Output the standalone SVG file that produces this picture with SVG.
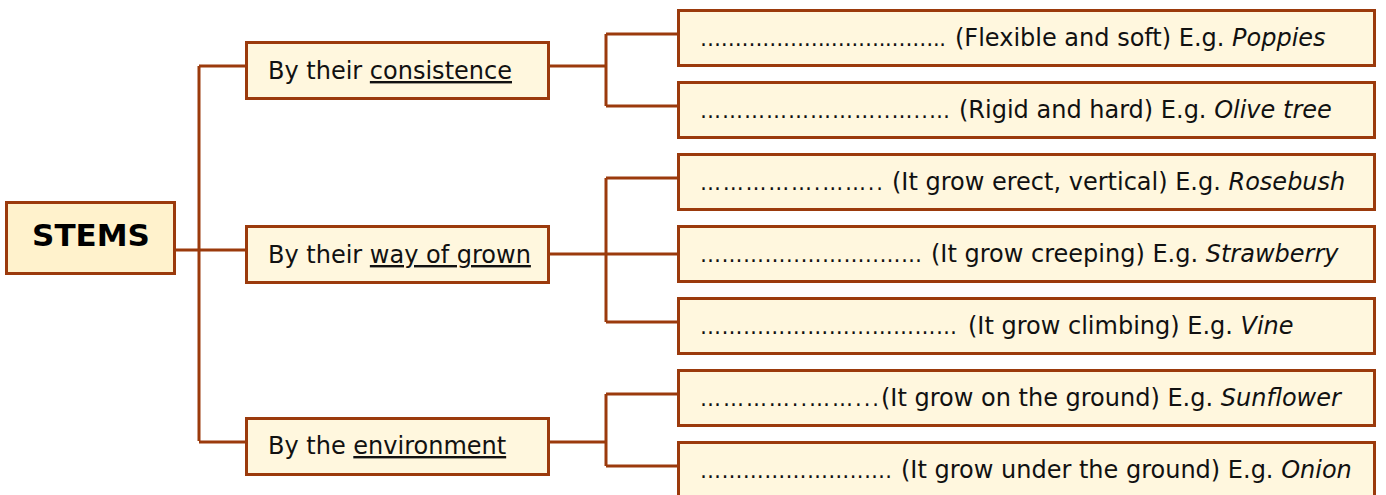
<svg xmlns="http://www.w3.org/2000/svg" width="1386" height="495" viewBox="0 0 1386 495">
<style>
.box{fill:#FFF7DE;stroke:#9B3A0C;stroke-width:3}
.root{fill:#FFF2CC;stroke:#9B3A0C;stroke-width:3}
.ln{fill:none;stroke:#9B3A0C;stroke-width:3}
text{font-family:"DejaVu Sans","Verdana",sans-serif;font-size:24px;fill:#111}
.d{font-size:21px}
.t{font-size:31px;font-weight:bold;text-anchor:middle;fill:#000}
.u{text-decoration:underline}
.i{font-style:italic}
</style>
<rect width="1386" height="495" fill="#fff"/>
<g id="connectors">
<path class="ln" d="M175,250 H246 M199,66 V441 M199,66 H246 M199,442 H246"/>
<path class="ln" d="M549,66 H606 M606,34 V106 M606,34 H678 M606,106 H678"/>
<path class="ln" d="M549,254 H678 M606,178 V322 M606,178 H678 M606,322 H678"/>
<path class="ln" d="M549,442 H606 M606,394 V466 M606,394 H678 M606,466 H678"/>
</g>
<g id="stems"><rect class="root" x="6.5" y="202.5" width="168" height="71"/><text class="t" x="91" y="246">STEMS</text></g>
<g id="consistence"><rect class="box" x="246.5" y="42.5" width="302" height="56"/><text x="268" y="79">By their <tspan class="u">consistence</tspan></text></g>
<g id="way"><rect class="box" x="246.5" y="226.5" width="302" height="56"/><text x="268" y="263">By their <tspan class="u">way of grown</tspan></text></g>
<g id="environment"><rect class="box" x="246.5" y="418.5" width="302" height="56"/><text x="268" y="454">By the <tspan class="u">environment</tspan></text></g>
<g id="flexible"><rect class="box" x="678.5" y="10.5" width="696" height="55"/>
<text class="d" x="700" y="46" textLength="246" lengthAdjust="spacing">……………….….…..……..</text>
<text x="955" y="46">(Flexible and soft) E.g. <tspan class="i">Poppies</tspan></text></g>
<g id="rigid"><rect class="box" x="678.5" y="82.5" width="696" height="55"/>
<text class="d" x="700" y="118" textLength="250" lengthAdjust="spacing">……………………..…..…</text>
<text x="959" y="118">(Rigid and hard) E.g. <tspan class="i">Olive tree</tspan></text></g>
<g id="erect"><rect class="box" x="678.5" y="154.5" width="696" height="55"/>
<text class="d" x="700" y="190" textLength="183" lengthAdjust="spacing">…………….……..</text>
<text x="892" y="190">(It grow erect, vertical) E.g. <tspan class="i">Rosebush</tspan></text></g>
<g id="creeping"><rect class="box" x="678.5" y="226.5" width="696" height="55"/>
<text class="d" x="700" y="262" textLength="222" lengthAdjust="spacing">…………..………..……</text>
<text x="931" y="262">(It grow creeping) E.g. <tspan class="i">Strawberry</tspan></text></g>
<g id="climbing"><rect class="box" x="678.5" y="298.5" width="696" height="55"/>
<text class="d" x="700" y="334" textLength="257" lengthAdjust="spacing">…………………...…………</text>
<text x="968" y="334">(It grow climbing) E.g. <tspan class="i">Vine</tspan></text></g>
<g id="ground"><rect class="box" x="678.5" y="370.5" width="696" height="55"/>
<text class="d" x="700" y="406" textLength="179" lengthAdjust="spacing">…………..……...</text>
<text x="881" y="406">(It grow on the ground) E.g. <tspan class="i">Sunflower</tspan></text></g>
<g id="under"><rect class="box" x="678.5" y="442.5" width="696" height="60"/>
<text class="d" x="700" y="478" textLength="192" lengthAdjust="spacing">…………………..….</text>
<text x="901" y="478">(It grow under the ground) E.g. <tspan class="i">Onion</tspan></text></g>
</svg>
